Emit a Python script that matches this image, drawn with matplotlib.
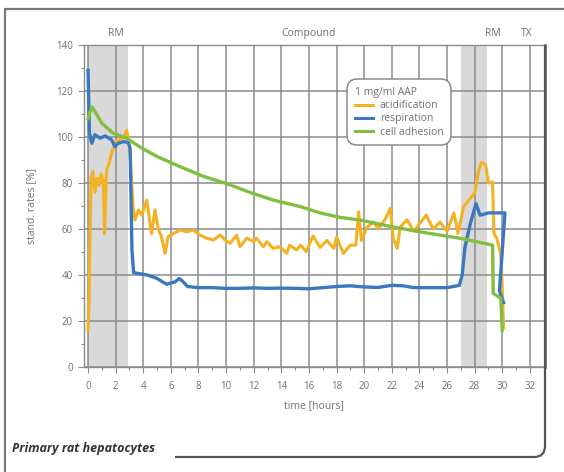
import matplotlib
matplotlib.use("Agg")
import matplotlib.pyplot as plt
from matplotlib.lines import Line2D
from matplotlib.path import Path
from matplotlib.patches import PathPatch
import numpy as np

##################### DATA #####################
resp_t = [0, 0.1, 0.27, 0.5, 0.87, 1.23, 1.71, 1.95, 2.2, 2.56,
          2.92, 3.05, 3.12, 3.18, 3.3, 3.8, 4.3, 5.0, 5.4, 5.7,
          6.0, 6.3, 6.6, 6.9, 7.2, 8, 9, 10, 11, 12,
          13, 14, 15, 16, 17, 18, 19, 20, 21, 22,
          22.8, 23.5, 24, 25, 26, 26.9, 27.1, 27.3, 27.7, 28.1,
          28.4, 29.0, 29.6, 30.2, 29.8, 30.1]
resp_v = [129, 101.6, 97.3, 101, 99.5, 100.5, 98.7, 95.8, 97.3, 98,
          97.6, 95, 70, 51, 41, 40.5, 40, 38.5, 37, 36,
          36.5, 37, 38.5, 37, 35, 34.5, 34.5, 34.2, 34.2, 34.4,
          34.2, 34.3, 34.2, 34.0, 34.5, 35, 35.3, 34.8, 34.6, 35.5,
          35.3, 34.6, 34.5, 34.5, 34.5, 35.5, 40, 52, 62.6, 71,
          66, 67, 67, 67, 33, 28]

acid_t = [0, 0.08, 0.15, 0.22, 0.35, 0.5, 0.65, 0.8, 0.95, 1.1,
          1.2, 1.25, 1.35, 1.5, 1.75, 2.0, 2.3, 2.6, 2.8, 2.95,
          3.05, 3.28, 3.4, 3.65, 3.9, 4.25, 4.49, 4.6, 4.85, 5.1,
          5.3, 5.58, 5.8, 6.18, 6.67, 7.15, 7.63, 8.1, 8.6, 9.08,
          9.56, 9.93, 10.3, 10.77, 11.0, 11.5, 12.0, 12.2, 12.7, 12.95,
          13.4, 13.9, 14.4, 14.6, 15.1, 15.4, 15.8, 16.3, 16.8, 17.3,
          17.8, 18.0, 18.5, 19.0, 19.4, 19.6, 19.8, 20.2, 20.7, 21.0,
          21.5, 21.9, 22.1, 22.4, 22.6, 23.1, 23.6, 24.1, 24.5, 25.0,
          25.5, 26.0, 26.5, 26.8, 27.2, 27.6, 28.0, 28.3, 28.5, 28.8,
          29.0, 29.3, 29.4, 29.6, 29.9, 30.0, 30.1]
acid_v = [16, 30, 62, 82, 85, 76, 82, 79, 84, 81,
          58, 70, 86, 88, 94, 98, 99, 100, 103, 98,
          91.5, 68.3, 63.9, 68.3, 66, 72.6, 62.5, 58, 68.3, 59.6,
          57, 49.4, 56.7, 58, 59.6, 58.8, 59.6, 57.4, 56, 55.2,
          57.4, 55.2, 53.8, 57.4, 52.3, 56, 54.5, 56, 52.3, 54.5,
          51.6, 52.3, 49.4, 53, 50.9, 53, 50.2, 57, 52, 55,
          51.6, 56.5, 49.4, 53, 53, 67.5, 55, 60.7, 63, 60,
          64, 69, 56, 51.6, 60.7, 64, 59, 63, 66, 60,
          63, 59, 67, 58, 69.7, 72.6, 75.5, 85.6, 89, 88,
          80, 80.5, 58, 56, 49, 35, 17]

adh_t = [0, 0.15, 0.3, 0.6, 1.0, 1.8, 2.8, 3.8, 5.0, 6.7,
         8.3, 10.0, 11.7, 13.4, 15.4, 16.8, 18.3, 19.7, 22.0, 24.0,
         27.0, 29.3, 29.35, 29.9, 30.0]
adh_v = [108, 111, 113, 110, 106, 101.7, 99.5, 95.5, 91.5, 87,
         83, 79.8, 76, 72.6, 69.7, 67, 65, 63.9, 61, 58.8,
         55.9, 53, 32, 30, 16]

phase_names = ["RM", "Compound", "RM", "TX"]
phase_pos = [2, 16, 29.3, 31.8]
shade_spans = [(0, 2.9), (27.0, 28.9)]

##################### PLOT SETTINGS #####################
W, H = 564, 472
c_acid = "#F4B223"
c_resp = "#3B78C2"
c_adh = "#80BF3F"
grid_c = "#8c8c8c"
txt_c = "#707070"
frame_c = "#7a7a7a"
plt.rcParams['font.family'] = ['Open Sans', 'DejaVu Sans']

fig = plt.figure(figsize=(W / 100, H / 100), dpi=100)
ax = fig.add_axes([83.5 / W, 1 - 367 / H, (545 - 83.5) / W, (367 - 45) / H])

for a, b in shade_spans:
    ax.axvspan(a, b, color="#d9d9d9", lw=0, zorder=0)

ax.plot(acid_t, acid_v, color=c_acid, lw=2.2, zorder=3)
ax.plot(resp_t, resp_v, color=c_resp, lw=2.4, zorder=4)
ax.plot(adh_t, adh_v, color=c_adh, lw=2.4, zorder=5)

ax.set_xlim(-0.33, 33.1)
ax.set_ylim(0, 140)
ax.set_xticks(np.arange(0, 33, 2))
ax.set_xticks(np.arange(0, 33, 1), minor=True)
ax.set_yticks(np.arange(0, 141, 20))
ax.set_yticks(np.arange(0, 141, 10), minor=True)
ax.grid(True, which="major", color=grid_c, lw=1.1, zorder=1)
ax.set_axisbelow(True)
ax.tick_params(which="both", direction="out", colors=grid_c, labelcolor=txt_c,
               labelsize=7, width=0.8)
ax.tick_params(which="major", length=4)
ax.tick_params(which="minor", length=2.5)
ax.tick_params(axis="x", pad=6)
for s in ["left", "top", "bottom"]:
    ax.spines[s].set_color(grid_c)
    ax.spines[s].set_linewidth(1.0)
ax.spines["right"].set_color("#555555")
ax.spines["right"].set_linewidth(1.8)

ax.set_xlabel("time [hours]", fontsize=7.5, color=txt_c, labelpad=6)
ax.set_ylabel("stand. rates [%]", fontsize=7.5, color=txt_c, labelpad=14)

for name, pos in zip(phase_names, phase_pos):
    ax.text(pos, 142.5, name, ha="center", va="bottom", fontsize=7.5, color=txt_c)

handles = [Line2D([], [], color=c, lw=2.2) for c in (c_acid, c_resp, c_adh)]
leg = ax.legend(handles, ["acidification", "respiration", "cell adhesion"],
                title="1 mg/ml AAP", loc="upper left",
                bbox_to_anchor=(0.571, 0.893), fontsize=7.5, title_fontsize=7.5,
                handlelength=1.7, handletextpad=0.7, labelspacing=0.2,
                borderpad=0.75, borderaxespad=0, frameon=True, fancybox=True,
                framealpha=1)
leg._legend_box.align = "left"
leg.get_frame().set_boxstyle("round,pad=0,rounding_size=1.0")
leg.get_frame().set_edgecolor("#8a8a8a")
leg.get_frame().set_linewidth(1.1)
leg.get_title().set_color(txt_c)
for t in leg.get_texts():
    t.set_color(txt_c)
leg.set_zorder(6)

# outer frame with rounded lower right corner
def px(x, y):
    return (x / W, 1 - y / H)

r = 11
verts = [px(5, 472), px(5, 9), px(564, 9)]
fig.add_artist(Line2D([v[0] for v in verts], [v[1] for v in verts],
                      transform=fig.transFigure, color=frame_c, lw=1.6))
corner = [px(545, 45), px(545, 457 - r), px(545, 457), px(545 - r, 457), px(175, 457)]
codes = [Path.MOVETO, Path.LINETO, Path.CURVE3, Path.CURVE3, Path.LINETO]
fig.add_artist(PathPatch(Path(corner, codes), transform=fig.transFigure,
                         facecolor="none", edgecolor="#555555", lw=1.6))

fig.text(12 / W, 1 - 452 / H, "Primary rat hepatocytes", fontsize=9,
         fontweight="bold", fontstyle="italic", color="#333333", va="baseline")

fig.savefig("out.png", dpi=100)
